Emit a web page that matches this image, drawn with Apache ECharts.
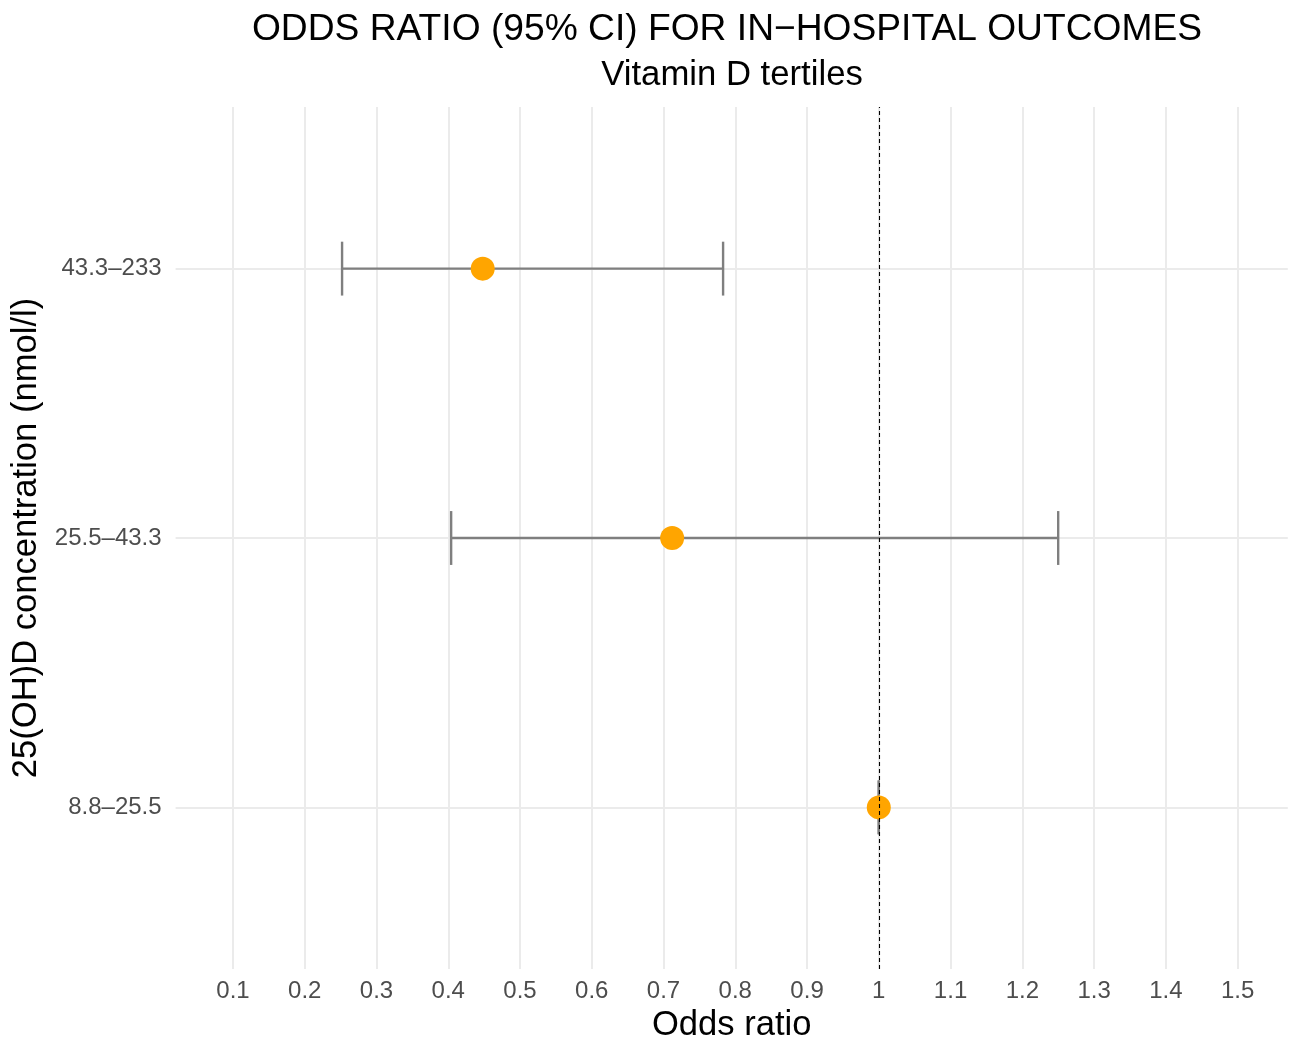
<!DOCTYPE html>
<html>
<head>
<meta charset="utf-8">
<script src="https://cdn.jsdelivr.net/npm/echarts@6/dist/echarts.min.js"></script>
<style>
html,body{margin:0;padding:0;background:#fff;}
#chart{width:1290px;height:1042px;}
</style>
</head>
<body>
<div id="chart"></div>
<script>
// ---- data ----
const categories = ["8.8–25.5", "25.5–43.3", "43.3–233"];
const oddsRatio = [1.000, 0.712, 0.448];
const ciLower = [1.000, 0.404, 0.252];
const ciUpper = [1.000, 1.250, 0.783];
const xTicks = [0.1, 0.2, 0.3, 0.4, 0.5, 0.6, 0.7, 0.8, 0.9, 1, 1.1, 1.2, 1.3, 1.4, 1.5];
const yTicks = [1, 2, 3];
const refLine = 1;

const FONT = '"Liberation Sans", Arial, Helvetica, sans-serif';

const errData = categories.map((c, i) => [i + 1, ciLower[i], ciUpper[i]]);
const pointData = categories.map((c, i) => [oddsRatio[i], i + 1]);

const chart = echarts.init(document.getElementById('chart'), null, {renderer: 'canvas'});
chart.setOption({
  animation: false,
  backgroundColor: '#ffffff',
  title: [
    {text: 'ODDS RATIO (95% CI) FOR IN\u2212HOSPITAL OUTCOMES', left: 722, top: 6, textAlign: 'center',
     textStyle: {fontFamily: FONT, fontSize: 37.2, fontWeight: 'normal', color: '#000'}},
    {text: 'Vitamin D tertiles', left: 727, top: 53, textAlign: 'center',
     textStyle: {fontFamily: FONT, fontSize: 34.7, fontWeight: 'normal', color: '#000'}}
  ],
  grid: {left: 175.6, right: 2.2, top: 107, bottom: 73, containLabel: false, outerBoundsMode: 'none'},
  xAxis: {
    type: 'value', min: 0.02, max: 1.57,
    name: 'Odds ratio', nameLocation: 'middle', nameGap: 38,
    nameTextStyle: {fontFamily: FONT, fontSize: 34.6, color: '#000'},
    axisLine: {show: false},
    axisTick: {show: false, customValues: xTicks},
    axisLabel: {customValues: xTicks, fontFamily: FONT, fontSize: 24, color: '#4d4d4d', margin: 10},
    splitLine: {show: true, lineStyle: {color: '#ebebeb', width: 2}}
  },
  yAxis: {
    type: 'value', min: 0.4, max: 3.6,
    name: '25(OH)D concentration (nmol/l)', nameLocation: 'middle', nameGap: 132, nameRotate: 90,
    nameTextStyle: {fontFamily: FONT, fontSize: 34.6, color: '#000'},
    axisLine: {show: false},
    axisTick: {show: false, customValues: yTicks},
    axisLabel: {customValues: yTicks, fontFamily: FONT, fontSize: 24, color: '#4d4d4d', margin: 14,
      formatter: v => categories[Math.round(v) - 1] || ''},
    splitLine: {show: true, lineStyle: {color: '#ebebeb', width: 2}}
  },
  series: [
    {
      type: 'scatter', data: [], z: 1, silent: true,
      markLine: {
        silent: true, symbol: ['none', 'none'], label: {show: false},
        lineStyle: {color: '#000', type: [4, 3], width: 1.1},
        data: [{xAxis: refLine}]
      }
    },
    {
      type: 'custom', z: 2, silent: true,
      data: errData,
      encode: {x: [1, 2], y: 0},
      renderItem: function (params, api) {
        const y = api.value(0);
        const lo = api.coord([api.value(1), y]);
        const hi = api.coord([api.value(2), y]);
        const half = api.size([0, 0.1])[1];
        const style = {stroke: '#7f7f7f', lineWidth: 2.4, fill: null};
        return {
          type: 'group',
          children: [
            {type: 'line', shape: {x1: lo[0], y1: lo[1], x2: hi[0], y2: hi[1]}, style: style},
            {type: 'line', shape: {x1: lo[0], y1: lo[1] - half, x2: lo[0], y2: lo[1] + half}, style: style},
            {type: 'line', shape: {x1: hi[0], y1: hi[1] - half, x2: hi[0], y2: hi[1] + half}, style: style}
          ]
        };
      }
    },
    {
      type: 'scatter', z: 3, silent: true,
      data: pointData,
      symbol: 'circle', symbolSize: 24,
      itemStyle: {color: '#FFA500', opacity: 1}
    }
  ]
});
</script>
</body>
</html>
